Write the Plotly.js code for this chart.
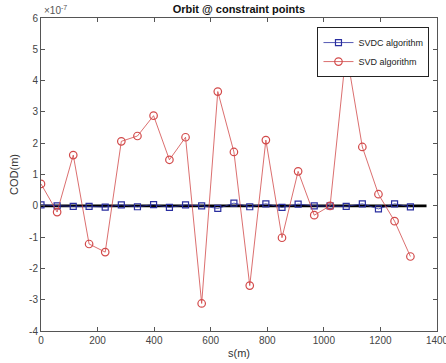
<!DOCTYPE html>
<html>
<head>
<meta charset="utf-8">
<script src="https://cdn.plot.ly/plotly-3.0.1.min.js"></script>
<style>html,body{margin:0;padding:0;background:#fff;}#chart{width:446px;height:363px;}</style>
</head>
<body>
<div id="chart"></div>
<script>
// positions along the ring, s (m)
const sPos = [0,57,114,170,227,284,341,398,454,511,568,625,682,738,795,852,909,966,1022,1079,1136,1193,1250,1306];
// COD values in units of 1e-7 m
const codSVDC = [0.03,0,-0.02,-0.02,-0.04,0.03,-0.03,0.04,-0.05,0.03,0,-0.085,0.085,-0.03,0.064,-0.053,0.053,0,0,-0.02,0.064,-0.1,0.064,-0.032];
const codSVD = [0.70,-0.20,1.62,-1.22,-1.48,2.06,2.23,2.88,1.47,2.19,-3.12,3.65,1.72,-2.55,2.10,-1.02,1.10,-0.30,0.0,4.95,1.88,0.37,-0.49,-1.62];
const zeroLineS = [0,1363];
const zeroLineY = [0,0];
const xTicks = [0,200,400,600,800,1000,1200,1400];
const yTicks = [-4,-3,-2,-1,0,1,2,3,4,5,6];

const font = 'Liberation Sans, Arial, Helvetica, sans-serif';
const traces = [
  {x: zeroLineS, y: zeroLineY, mode: 'lines', line: {color: '#000', width: 2.8}, showlegend: false, hoverinfo: 'skip'},
  {x: sPos, y: codSVDC, name: 'SVDC algorithm', mode: 'lines+markers',
   line: {color: '#2a2fa0', width: 0.8},
   marker: {symbol: 'square-open', size: 6, color: '#2a2fa0', line: {width: 1.2}}},
  {x: sPos, y: codSVD, name: 'SVD algorithm', mode: 'lines+markers',
   line: {color: '#d24a4a', width: 0.8},
   marker: {symbol: 'circle-open', size: 7.5, color: '#d24a4a', line: {width: 1.2}}}
];
const axisCommon = {
  showline: true, mirror: 'ticks', linecolor: '#555', linewidth: 1,
  ticks: 'inside', ticklen: 4, tickcolor: '#555', showgrid: false, zeroline: false,
  ticklabeloverflow: 'allow',
  tickfont: {family: font, size: 10, color: '#444'}
};
const layout = {
  width: 446, height: 363,
  margin: {l: 40.5, r: 8.5, t: 18, b: 32, pad: 0},
  paper_bgcolor: '#fff', plot_bgcolor: '#fff',
  title: {text: '<b>Orbit @ constraint points</b>', font: {family: font, size: 11, color: '#111'},
          x: 0.5356, xanchor: 'center', y: 0.976, yanchor: 'middle'},
  xaxis: Object.assign({}, axisCommon, {range: [0,1400], tickvals: xTicks, ticktext: xTicks.map(String),
          title: {text: 's(m)', font: {family: font, size: 11, color: '#333'}, standoff: 4}}),
  yaxis: Object.assign({}, axisCommon, {range: [-4,6], tickvals: yTicks, ticktext: yTicks.map(String),
          title: {text: 'COD(m)', font: {family: font, size: 11, color: '#333'}, standoff: 8}}),
  showlegend: true,
  legend: {x: 0.981, xanchor: 'right', y: 0.971, yanchor: 'top', bgcolor: '#fff',
           bordercolor: '#222', borderwidth: 1, font: {family: font, size: 9, color: '#222'},
           tracegroupgap: 0, itemwidth: 30},
  annotations: [{xref: 'paper', yref: 'paper', x: 0.003, y: 1, xanchor: 'left', yanchor: 'bottom',
                 text: '×10<sup>-7</sup>', showarrow: false, font: {family: font, size: 10, color: '#555'}}]
};
Plotly.newPlot('chart', traces, layout, {displayModeBar: false, staticPlot: true});
</script>
</body>
</html>
